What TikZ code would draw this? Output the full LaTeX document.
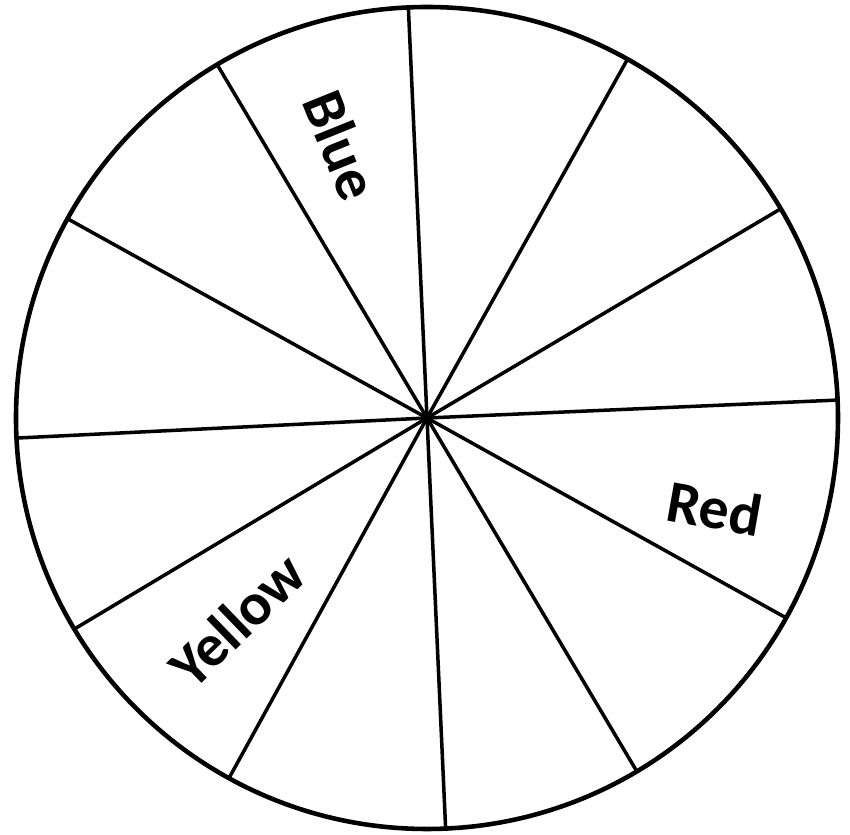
\documentclass[tikz,border=0pt]{standalone}
\usepackage{fontspec}
\setmainfont{Carlito}
\usetikzlibrary{positioning}
\tikzset{
  rim/.style={line width=2.6pt},
  spoke/.style={line width=2pt,line cap=round},
  lbl/.style={font=\fontsize{34}{36}\selectfont\bfseries,inner sep=0pt},
}

\begin{document}
\begin{tikzpicture}[x=0.02cm,y=0.02cm]
\useasboundingbox (0,0) rectangle (850,835);
\coordinate (hub) at (427,417);
\draw[rim] (hub) circle[radius=411];
% twelve spokes, drawn by hand so not quite even
\foreach \a [count=\i] in {2.5,30.6,60.8,92.6,120.7,151,182.8,210.9,241.2,272.6,300.7,330.9}{
  \path (hub) ++(\a:410) coordinate (rim\i);
  \draw[spoke] (hub) -- (rim\i);
}
\node[lbl,rotate=-68] (blue) at (341,690) {Blue};
\node[lbl,rotate=-10] (red) at (715,327) {Red};
\node[lbl,rotate=44] (yellow) at (237,215) {Yellow};
\end{tikzpicture}
\end{document}
